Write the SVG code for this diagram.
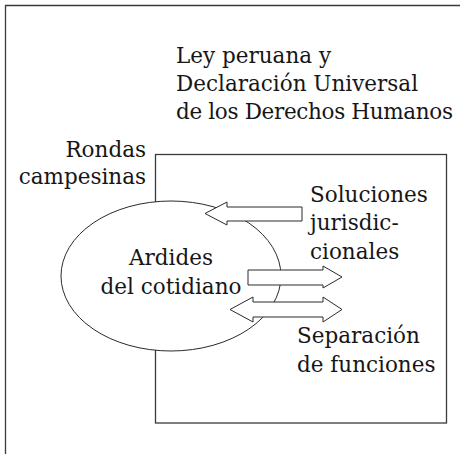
<svg xmlns="http://www.w3.org/2000/svg" width="460" height="454" viewBox="0 0 460 454">
<style>
text{font-family:"DejaVu Serif","Liberation Serif",serif;font-size:21.5px;fill:#161616}
.ln{fill:none;stroke:#3a3a3a;stroke-width:1.3}
.sh{fill:#fff;stroke:#2a2a2a;stroke-width:1}
</style>
<rect width="460" height="454" fill="#fff"/>
<g id="frame"><path class="ln" d="M5.5,454 V5.5 H460" stroke-width="1.6"/></g>
<g id="ley"><text x="176" y="63">Ley peruana y</text><text x="176" y="91">Declaración Universal</text><text x="176" y="119" textLength="277">de los Derechos Humanos</text></g>
<g id="rondas"><rect class="ln" x="155.5" y="154.5" width="291" height="268.5"/>
<text x="146" y="157" text-anchor="end">Rondas</text><text x="146" y="184" text-anchor="end">campesinas</text></g>
<g id="ardides"><ellipse class="sh" cx="171" cy="276" rx="110" ry="75"/>
<text x="171" y="265" text-anchor="middle">Ardides</text><text x="171" y="294" text-anchor="middle">del cotidiano</text></g>
<g id="connectors">
<path class="sh" d="M302,207 H227 V202 L205,213.5 L227,225 V221 H302 Z"/>
<path class="sh" d="M248,270 H323 V266 L342,277 L323,288 V285 H248 Z"/>
<path class="sh" d="M230,309.5 L253,297 V302 H323 V297 L342,309.5 L323,322 V317 H253 V322 Z"/>
</g>
<g id="soluciones"><text x="310" y="202">Soluciones</text><text x="310" y="230">jurisdic-</text><text x="310" y="259">cionales</text></g>
<g id="separacion"><text x="297" y="343">Separación</text><text x="297" y="372">de funciones</text></g>
</svg>
